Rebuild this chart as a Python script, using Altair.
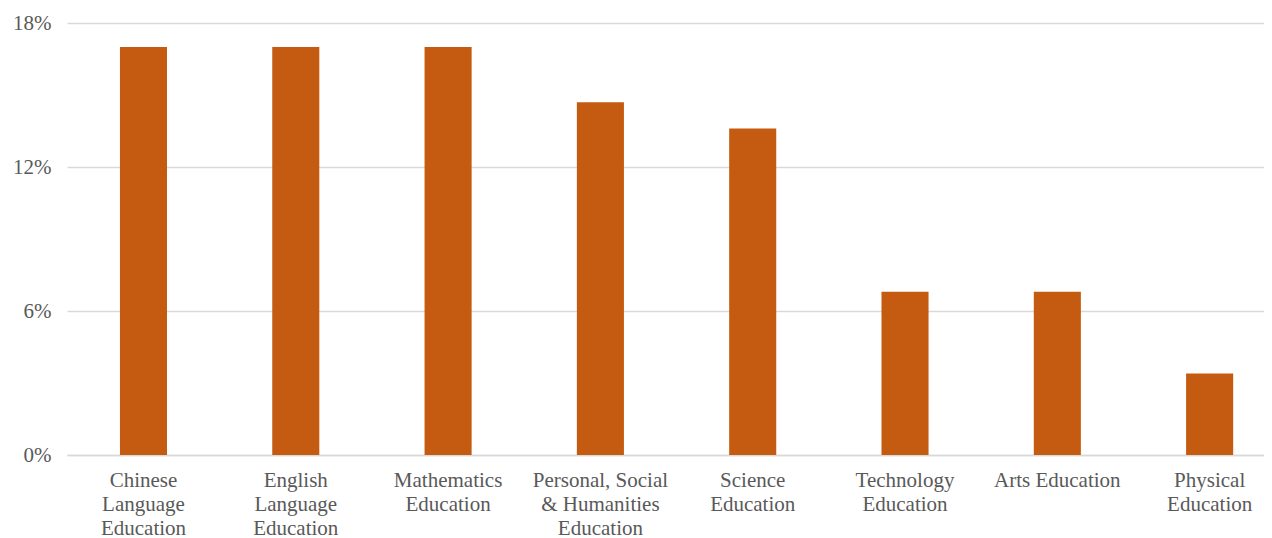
import altair as alt
import pandas as pd

categories = [
    "Chinese|Language|Education",
    "English|Language|Education",
    "Mathematics|Education",
    "Personal, Social|& Humanities|Education",
    "Science|Education",
    "Technology|Education",
    "Arts Education",
    "Physical|Education",
]
values = [17.0, 17.0, 17.0, 14.7, 13.6, 6.8, 6.8, 3.4]
y_ticks = [0, 6, 12, 18]

df = pd.DataFrame({"cat": categories, "val": values})

FONT = "Liberation Serif"
GRAY = "#595959"

chart = alt.Chart(df).mark_bar(color="#C55A11").encode(
    x=alt.X(
        "cat:N",
        sort=categories,
        scale=alt.Scale(paddingInner=0.691, paddingOuter=0.275, align=0.632),
        axis=alt.Axis(
            title=None,
            labelAngle=0,
            labelExpr="split(datum.label, '|')",
            labelFont=FONT,
            labelFontSize=21,
            labelColor=GRAY,
            labelLineHeight=24,
            labelPadding=14,
            labelBaseline="top",
            ticks=False,
            domainColor="#d9d9d9",
            domainWidth=1.3,
            grid=False,
            labelLimit=300,
        ),
    ),
    y=alt.Y(
        "val:Q",
        scale=alt.Scale(domain=[0, 18], nice=False),
        axis=alt.Axis(
            title=None,
            values=y_ticks,
            labelExpr="datum.value + '%'",
            labelFont=FONT,
            labelFontSize=21,
            labelColor=GRAY,
            labelPadding=16,
            ticks=False,
            domain=False,
            grid=True,
            gridColor="#d9d9d9",
            gridWidth=1.3,
        ),
    ),
).properties(
    width=1197,
    height=432,
    autosize=alt.AutoSizeParams(type="none"),
    padding={"left": 59, "top": 15, "right": 0, "bottom": 85},
).configure_view(stroke=None)

chart.save("out.html", embed_options={"renderer": "svg", "actions": False})
